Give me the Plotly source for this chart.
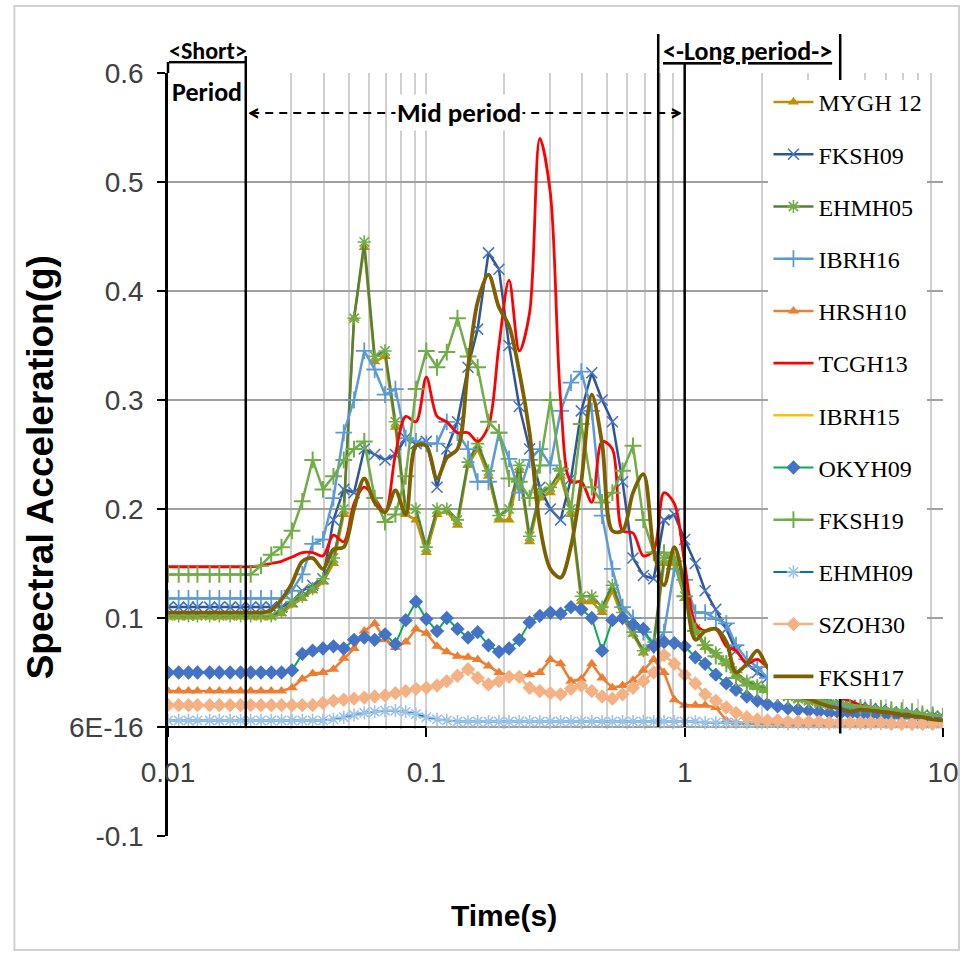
import math
import plotly.graph_objects as go

# ---------------- data ----------------
periods = [0.01, 0.011, 0.012, 0.013, 0.0145, 0.0158, 0.0174, 0.0191, 0.0209, 0.0229,
           0.0251, 0.0275, 0.0302, 0.0331, 0.0363, 0.0398, 0.0437, 0.0479, 0.0525, 0.0575,
           0.0631, 0.0692, 0.0759, 0.0832, 0.0912, 0.1, 0.11, 0.12, 0.132, 0.145,
           0.158, 0.174, 0.191, 0.209, 0.229, 0.251, 0.275, 0.302, 0.331, 0.363,
           0.398, 0.437, 0.479, 0.525, 0.575, 0.631, 0.692, 0.759, 0.832, 0.912,
           1.0, 1.1, 1.2, 1.32, 1.45, 1.58, 1.74, 1.91, 2.09, 2.29,
           2.51, 2.75, 3.02, 3.31, 3.63, 3.98, 4.37, 4.79, 5.25, 5.75,
           6.31, 6.92, 7.59, 8.32, 9.12, 10.0]

mygh12 = [0.101, 0.101, 0.101, 0.101, 0.101, 0.101, 0.101, 0.101, 0.101, 0.101,
          0.101, 0.104, 0.112, 0.118, 0.125, 0.133, 0.150, 0.195, 0.375, 0.440,
          0.335, 0.340, 0.275, 0.195, 0.190, 0.160, 0.195, 0.198, 0.185, 0.240,
          0.255, 0.230, 0.190, 0.190, 0.235, 0.170, 0.210, 0.215, 0.230, 0.195,
          0.115, 0.115, 0.105, 0.125, 0.100, 0.085, 0.068, 0.075, 0.150, 0.150,
          0.118, 0.088, 0.073, 0.066, 0.058, 0.048, 0.041, 0.037, 0.034, 0.029,
          0.027, 0.025, 0.023, 0.021, 0.020, 0.019, 0.018, 0.016, 0.015, 0.014,
          0.013, 0.012, 0.011, 0.010, 0.009, 0.008]

fksh09 = [0.110, 0.110, 0.110, 0.110, 0.110, 0.110, 0.110, 0.110, 0.110, 0.110,
          0.110, 0.110, 0.115, 0.125, 0.130, 0.136, 0.190, 0.218, 0.215, 0.255,
          0.250, 0.245, 0.250, 0.265, 0.260, 0.262, 0.220, 0.255, 0.280, 0.330,
          0.365, 0.435, 0.420, 0.350, 0.294, 0.255, 0.220, 0.200, 0.190, 0.228,
          0.290, 0.325, 0.300, 0.280, 0.225, 0.155, 0.139, 0.136, 0.190, 0.195,
          0.172, 0.150, 0.125, 0.108, 0.090, 0.070, 0.058, 0.050, 0.045, 0.040,
          0.035, 0.032, 0.028, 0.026, 0.024, 0.022, 0.020, 0.018, 0.017, 0.016,
          0.014, 0.013, 0.012, 0.011, 0.010, 0.009]

ehmh05 = [0.102, 0.102, 0.102, 0.102, 0.102, 0.102, 0.102, 0.102, 0.102, 0.102,
          0.102, 0.106, 0.115, 0.120, 0.127, 0.136, 0.155, 0.200, 0.375, 0.445,
          0.340, 0.345, 0.280, 0.200, 0.200, 0.165, 0.200, 0.200, 0.190, 0.243,
          0.260, 0.235, 0.194, 0.200, 0.240, 0.175, 0.215, 0.220, 0.235, 0.200,
          0.120, 0.120, 0.110, 0.130, 0.105, 0.087, 0.070, 0.078, 0.155, 0.155,
          0.120, 0.090, 0.075, 0.068, 0.060, 0.050, 0.042, 0.038, 0.035, 0.030,
          0.028, 0.026, 0.024, 0.022, 0.021, 0.020, 0.019, 0.017, 0.016, 0.015,
          0.014, 0.013, 0.012, 0.011, 0.010, 0.009]

ibrh16 = [0.118, 0.118, 0.118, 0.118, 0.118, 0.118, 0.118, 0.118, 0.118, 0.118,
          0.118, 0.118, 0.125, 0.140, 0.168, 0.172, 0.210, 0.270, 0.300, 0.345,
          0.328, 0.305, 0.310, 0.265, 0.262, 0.260, 0.260, 0.280, 0.270, 0.255,
          0.225, 0.225, 0.270, 0.246, 0.215, 0.245, 0.255, 0.240, 0.290, 0.316,
          0.326, 0.290, 0.194, 0.145, 0.110, 0.100, 0.087, 0.075, 0.087, 0.145,
          0.135, 0.105, 0.105, 0.099, 0.095, 0.075, 0.062, 0.055, 0.045, 0.040,
          0.035, 0.030, 0.027, 0.024, 0.022, 0.020, 0.018, 0.016, 0.015, 0.014,
          0.013, 0.012, 0.011, 0.010, 0.009, 0.008]

hrsh10 = [0.033, 0.033, 0.033, 0.033, 0.033, 0.033, 0.033, 0.033, 0.033, 0.033,
          0.033, 0.033, 0.036, 0.044, 0.049, 0.050, 0.053, 0.063, 0.072, 0.088,
          0.095, 0.080, 0.073, 0.078, 0.090, 0.086, 0.074, 0.069, 0.065, 0.064,
          0.062, 0.056, 0.050, 0.047, 0.047, 0.048, 0.050, 0.062, 0.058, 0.042,
          0.044, 0.058, 0.045, 0.036, 0.038, 0.043, 0.052, 0.062, 0.050, 0.025,
          0.020, 0.020, 0.020, 0.018, 0.006, 0.004, 0.004, 0.004, 0.004, 0.003,
          0.003, 0.003, 0.003, 0.003, 0.003, 0.003, 0.003, 0.003, 0.003, 0.003,
          0.003, 0.003, 0.002, 0.002, 0.002, 0.002]

tcgh13 = [0.147, 0.147, 0.147, 0.147, 0.147, 0.147, 0.147, 0.147, 0.147, 0.148,
          0.150, 0.152, 0.156, 0.160, 0.160, 0.157, 0.176, 0.170, 0.205, 0.220,
          0.210, 0.197, 0.250, 0.285, 0.280, 0.321, 0.285, 0.280, 0.270, 0.270,
          0.262, 0.276, 0.350, 0.410, 0.345, 0.380, 0.540, 0.490, 0.300, 0.225,
          0.225, 0.206, 0.262, 0.255, 0.180, 0.178, 0.157, 0.162, 0.215, 0.205,
          0.150, 0.095, 0.088, 0.090, 0.074, 0.070, 0.058, 0.062, 0.055, 0.050,
          0.042, 0.036, 0.033, 0.033, 0.030, 0.027, 0.024, 0.020, 0.018, 0.016,
          0.015, 0.014, 0.013, 0.011, 0.010, 0.008]

fksh17 = [0.105, 0.105, 0.105, 0.105, 0.105, 0.105, 0.105, 0.105, 0.105, 0.105,
          0.107, 0.117, 0.132, 0.152, 0.155, 0.145, 0.163, 0.165, 0.200, 0.228,
          0.206, 0.197, 0.217, 0.195, 0.258, 0.258, 0.228, 0.247, 0.255, 0.330,
          0.390, 0.415, 0.385, 0.368, 0.326, 0.270, 0.185, 0.145, 0.137, 0.166,
          0.225, 0.305, 0.260, 0.180, 0.180, 0.215, 0.232, 0.163, 0.130, 0.165,
          0.128, 0.080, 0.088, 0.090, 0.078, 0.050, 0.058, 0.070, 0.055, 0.045,
          0.035, 0.028, 0.026, 0.022, 0.019, 0.017, 0.014, 0.016, 0.015, 0.014,
          0.013, 0.011, 0.010, 0.009, 0.007, 0.006]

# IBRH15 coincides with FKSH17 and is hidden beneath it
ibrh15 = list(fksh17)

okyh09 = [0.050, 0.050, 0.050, 0.050, 0.050, 0.050, 0.050, 0.050, 0.050, 0.050,
          0.050, 0.050, 0.052, 0.067, 0.070, 0.072, 0.074, 0.072, 0.080, 0.082,
          0.080, 0.085, 0.076, 0.098, 0.115, 0.099, 0.088, 0.100, 0.090, 0.082,
          0.087, 0.075, 0.069, 0.072, 0.080, 0.096, 0.102, 0.105, 0.104, 0.110,
          0.108, 0.100, 0.070, 0.098, 0.100, 0.094, 0.090, 0.074, 0.078, 0.077,
          0.074, 0.064, 0.058, 0.048, 0.040, 0.034, 0.028, 0.024, 0.021, 0.019,
          0.017, 0.016, 0.015, 0.014, 0.013, 0.012, 0.012, 0.011, 0.011, 0.010,
          0.010, 0.009, 0.009, 0.008, 0.008, 0.007]

fksh19 = [0.140, 0.140, 0.140, 0.140, 0.140, 0.140, 0.140, 0.140, 0.140, 0.148,
          0.158, 0.165, 0.180, 0.207, 0.245, 0.218, 0.230, 0.245, 0.255, 0.262,
          0.210, 0.188, 0.195, 0.230, 0.310, 0.345, 0.330, 0.344, 0.375, 0.340,
          0.330, 0.280, 0.270, 0.228, 0.225, 0.210, 0.240, 0.300, 0.237, 0.200,
          0.278, 0.220, 0.206, 0.215, 0.235, 0.258, 0.190, 0.160, 0.160, 0.152,
          0.120, 0.088, 0.075, 0.065, 0.058, 0.045, 0.038, 0.035, 0.032, 0.030,
          0.028, 0.026, 0.025, 0.024, 0.023, 0.022, 0.020, 0.019, 0.018, 0.017,
          0.016, 0.015, 0.014, 0.012, 0.011, 0.010]

ehmh09 = [0.006, 0.006, 0.006, 0.006, 0.006, 0.006, 0.006, 0.006, 0.006, 0.006,
          0.006, 0.006, 0.006, 0.006, 0.006, 0.006, 0.007, 0.009, 0.011, 0.013,
          0.014, 0.015, 0.015, 0.014, 0.012, 0.009, 0.007, 0.006, 0.005, 0.005,
          0.005, 0.005, 0.005, 0.005, 0.005, 0.005, 0.005, 0.005, 0.005, 0.005,
          0.005, 0.005, 0.005, 0.005, 0.005, 0.005, 0.005, 0.005, 0.005, 0.005,
          0.005, 0.005, 0.004, 0.004, 0.004, 0.004, 0.004, 0.004, 0.004, 0.004,
          0.003, 0.003, 0.003, 0.003, 0.003, 0.003, 0.003, 0.003, 0.003, 0.003,
          0.003, 0.003, 0.003, 0.003, 0.003, 0.003]

szoh30 = [0.020, 0.020, 0.020, 0.020, 0.020, 0.020, 0.020, 0.020, 0.020, 0.020,
          0.020, 0.020, 0.020, 0.020, 0.020, 0.022, 0.024, 0.025, 0.026, 0.027,
          0.028, 0.029, 0.031, 0.033, 0.035, 0.036, 0.038, 0.042, 0.047, 0.053,
          0.045, 0.039, 0.042, 0.046, 0.046, 0.036, 0.033, 0.031, 0.030, 0.035,
          0.038, 0.033, 0.028, 0.026, 0.030, 0.036, 0.042, 0.050, 0.066, 0.058,
          0.048, 0.040, 0.030, 0.024, 0.018, 0.013, 0.009, 0.007, 0.006, 0.006,
          0.005, 0.005, 0.005, 0.005, 0.004, 0.004, 0.004, 0.004, 0.004, 0.004,
          0.003, 0.003, 0.003, 0.003, 0.003, 0.003]

y_tickvals = [-0.1, 0.0, 0.1, 0.2, 0.3, 0.4, 0.5, 0.6]
y_ticktext = ["-0.1", "6E-16", "0.1", "0.2", "0.3", "0.4", "0.5", "0.6"]
x_tickvals = [0.01, 0.1, 1, 10]
x_ticktext = ["0.01", "0.1", "1", "10"]

# ---------------- styles ----------------
series = [
    ("MYGH 12", mygh12, dict(color="#BF9000", width=2.5), dict(symbol="triangle-up", size=10, color="#BF9000"), "linear"),
    ("FKSH09", fksh09, dict(color="#2F5597", width=2.5), dict(symbol="x-thin-open", size=11, color="#4472C4", line=dict(color="#4472C4", width=1.6)), "linear"),
    ("EHMH05", ehmh05, dict(color="#548235", width=2.5), dict(symbol="asterisk-open", size=11, color="#70AD47", line=dict(color="#70AD47", width=1.6)), "linear"),
    ("IBRH16", ibrh16, dict(color="#5B9BD5", width=2.5), dict(symbol="cross-thin-open", size=12, color="#5B9BD5", line=dict(color="#5B9BD5", width=1.8)), "linear"),
    ("HRSH10", hrsh10, dict(color="#ED7D31", width=2.5), dict(symbol="triangle-up", size=10, color="#ED7D31"), "linear"),
    ("TCGH13", tcgh13, dict(color="#FF0000", width=2.8), None, "spline"),
    ("IBRH15", ibrh15, dict(color="#FFC000", width=2.5), None, "spline"),
    ("OKYH09", okyh09, dict(color="#00B050", width=2.0), dict(symbol="diamond", size=11, color="#4472C4"), "linear"),
    ("FKSH19", fksh19, dict(color="#70AD47", width=2.5), dict(symbol="cross-thin-open", size=12, color="#70AD47", line=dict(color="#70AD47", width=2)), "linear"),
    ("EHMH09", ehmh09, dict(color="#0070C0", width=2.0), dict(symbol="asterisk-open", size=11, color="#9DC3E6", line=dict(color="#9DC3E6", width=1.6)), "linear"),
    ("SZOH30", szoh30, dict(color="#F4B183", width=2.5), dict(symbol="diamond", size=11, color="#F4B183"), "linear"),
    ("FKSH17", fksh17, dict(color="#7F6000", width=3.8), None, "spline"),
]

fig = go.Figure()
for i, (name, vals, line, marker, shape) in enumerate(series):
    assert len(vals) == len(periods), name
    line = dict(line)
    line["shape"] = shape
    if shape == "spline":
        line["smoothing"] = 0.9
    kw = dict(x=periods, y=vals, name=name, legendgroup="g%d" % i, line=line)
    if marker is None:
        kw["mode"] = "lines"
    else:
        kw["mode"] = "lines+markers"
        kw["marker"] = marker
    fig.add_trace(go.Scatter(**kw))

# ---------------- helpers (axis-range based) ----------------
XR = (-2.0, 1.0)
YR = (-0.1, 0.6)


def xp(t):
    return (math.log10(t) - XR[0]) / (XR[1] - XR[0])


def yp(v):
    return (v - YR[0]) / (YR[1] - YR[0])


# pixel-space helpers for decorations outside the plot area
L, R, T, B = 168, 26, 73, 126
W, H = 971, 962
PW, PH = W - L - R, H - T - B


def px_x(p):
    return (p - L) / PW


def px_y(p):
    return (H - B - p) / PH


shapes = []
# outer light border of the chart
shapes.append(dict(type="rect", xref="paper", yref="paper",
                   x0=px_x(14), x1=px_x(961), y0=px_y(950), y1=px_y(6),
                   line=dict(color="#D0D0D0", width=2), fillcolor="rgba(0,0,0,0)", layer="below"))
# hide gridlines below zero
shapes.append(dict(type="rect", xref="x", yref="y", x0=0.01, x1=10, y0=-0.1, y1=-0.002,
                   line=dict(width=0), fillcolor="white", layer="between"))
# black segment of horizontal axis at zero
shapes.append(dict(type="line", xref="x", yref="y", x0=0.01, x1=0.1, y0=0, y1=0,
                   line=dict(color="black", width=2), layer="above"))
# period boundary lines
blk = dict(color="black", width=2.5)
shapes.append(dict(type="line", xref="paper", yref="paper", x0=0, x1=0, y0=1, y1=px_y(62), line=blk, layer="above"))
shapes.append(dict(type="line", xref="paper", yref="paper", x0=xp(0.02), x1=xp(0.02), y0=yp(0), y1=px_y(56), line=blk, layer="above"))
shapes.append(dict(type="line", xref="paper", yref="paper", x0=xp(0.79), x1=xp(0.79), y0=yp(0), y1=px_y(34), line=blk, layer="above"))
shapes.append(dict(type="line", xref="paper", yref="paper", x0=xp(1.0), x1=xp(1.0), y0=yp(0), y1=px_y(62), line=blk, layer="above"))
shapes.append(dict(type="line", xref="paper", yref="paper", x0=xp(4.0), x1=xp(4.0), y0=yp(-0.006), y1=px_y(34), line=blk, layer="above"))
# dashed mid-period arrow
shapes.append(dict(type="line", xref="paper", yref="paper", x0=xp(0.021), x1=xp(0.96), y0=px_y(113), y1=px_y(113),
                   line=dict(color="black", width=1.8, dash="8px,6px"), layer="above"))
fig.update_layout(shapes=shapes)

cal = "Carlito, Lato, 'Open Sans', sans-serif"
ann = []
ann.append(dict(xref="paper", yref="paper", x=px_x(208), y=px_y(51), text="<u><b>&lt;Short&gt;</b></u>", showarrow=False,
                font=dict(family=cal, size=24, color="black"), xanchor="center", yanchor="middle"))
ann.append(dict(xref="paper", yref="paper", x=px_x(207), y=px_y(92), text="<b>Period</b>", showarrow=False,
                font=dict(family=cal, size=26, color="black"), xanchor="center", yanchor="middle"))
ann.append(dict(xref="paper", yref="paper", x=px_x(749), y=px_y(51), text="<u><b>&lt;-Long period-&gt;</b></u>", showarrow=False,
                font=dict(family=cal, size=26, color="black"), xanchor="center", yanchor="middle"))
ann.append(dict(xref="paper", yref="paper", x=px_x(460), y=px_y(112), text="<b>Mid period</b>", showarrow=False,
                font=dict(family=cal, size=27, color="black"), xanchor="center", yanchor="middle",
                bgcolor="white"))
ann.append(dict(xref="paper", yref="paper", x=px_x(254), y=px_y(112), text="<b>&lt;</b>", showarrow=False,
                font=dict(family=cal, size=24, color="black"), xanchor="center", yanchor="middle"))
ann.append(dict(xref="paper", yref="paper", x=px_x(677), y=px_y(112), text="<b>&gt;</b>", showarrow=False,
                font=dict(family=cal, size=24, color="black"), xanchor="center", yanchor="middle"))
# axis titles
ann.append(dict(xref="paper", yref="paper", x=px_x(40), y=px_y(467), text="<b>Spectral Acceleration(g)</b>",
                showarrow=False, textangle=-90,
                font=dict(family="'Liberation Sans', Arial, sans-serif", size=37, color="black"),
                xanchor="center", yanchor="middle"))
ann.append(dict(xref="paper", yref="paper", x=px_x(505), y=px_y(915), text="<b>Time(s)</b>", showarrow=False,
                font=dict(family="'Liberation Sans Narrow', 'Arial Narrow', 'Liberation Sans', sans-serif", size=30, color="black"),
                xanchor="center", yanchor="middle"))
fig.update_layout(annotations=ann)

minor_vals = [0.02, 0.03, 0.04, 0.05, 0.06, 0.07, 0.08, 0.09,
              0.2, 0.3, 0.4, 0.5, 0.6, 0.7, 0.8, 0.9,
              2, 3, 4, 5, 6, 7, 8, 9]

tickfont = dict(family="'Liberation Sans', Arial, sans-serif", size=28, color="#404040")

fig.update_layout(
    width=W, height=H,
    margin=dict(l=L, r=R, t=T, b=B),
    paper_bgcolor="white", plot_bgcolor="white",
    showlegend=True,
    legend=dict(x=px_x(770), y=px_y(80), xanchor="left", yanchor="top",
                bgcolor="white", borderwidth=0, itemwidth=40,
                tracegroupgap=18,
                font=dict(family="'Liberation Serif', 'Times New Roman', serif", size=24, color="black")),
    xaxis=dict(type="log", range=list(XR), tickvals=x_tickvals, ticktext=x_ticktext,
               ticks="outside", ticklen=9, tickwidth=1.5, tickcolor="black",
               showgrid=True, gridcolor="#CFCFCF", gridwidth=1.5,
               minor=dict(tickvals=minor_vals, showgrid=True, gridcolor="#CFCFCF", gridwidth=1.5, ticks=""),
               showline=False, zeroline=False, anchor="free", position=yp(0),
               tickfont=tickfont, ticklabelstandoff=11),
    yaxis=dict(range=list(YR), tickvals=y_tickvals, ticktext=y_ticktext,
               ticks="outside", ticklen=8, tickwidth=1.5, tickcolor="black",
               showline=True, linecolor="black", linewidth=2.5,
               showgrid=True, gridcolor="#A0A0A0", gridwidth=2, zeroline=False,
               tickfont=tickfont, ticklabelstandoff=8),
)

fig.write_html("out.html")
